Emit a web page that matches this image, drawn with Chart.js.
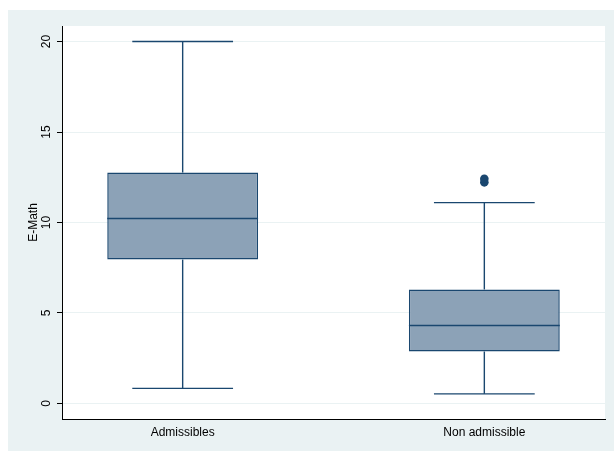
<!DOCTYPE html>
<html>
<head>
<meta charset="utf-8">
<script src="https://cdn.jsdelivr.net/npm/chart.js@4/dist/chart.umd.min.js"></script>
<style>
  html, body { margin: 0; padding: 0; background: #fff; }
  #wrap { width: 614px; height: 451px; }
</style>
</head>
<body>
<div id="wrap"><canvas id="c" width="614" height="451"></canvas></div>
<script>
// Box plot of E-Math scores by admission status
const categories = ['Admissibles', 'Non admissible'];
const lowerWhisker = [0.83, 0.53];
const q1 = [7.95, 2.87];
const median = [10.22, 4.31];
const q3 = [12.76, 6.30];
const upperWhisker = [20, 11.1];
const outliers = [[], [12.22, 12.42]];
const yTicks = [0, 5, 10, 15, 20];

const NAVY = '#1A476F';
const BOX_FILL = '#8CA2B7';
const BOX_HALF = 0.25;   // half box width in x units
const CAP_HALF = 0.167;  // half whisker-cap width in x units

function segment(x0, y0, x1, y1) {
  return {
    type: 'line',
    data: [{ x: x0, y: y0 }, { x: x1, y: y1 }],
    borderColor: NAVY,
    borderWidth: 1.4,
    pointRadius: 0,
    tension: 0,
    fill: false,
    order: 0
  };
}

const datasets = [{
  type: 'bar',
  data: categories.map((c, i) => ({ x: i + 1, y: [q1[i], q3[i]] })),
  backgroundColor: BOX_FILL,
  borderColor: NAVY,
  borderWidth: 1.5,
  borderSkipped: false,
  categoryPercentage: 0.5,
  barPercentage: 1,
  order: 1
}];

categories.forEach((c, i) => {
  const x = i + 1;
  datasets.push(segment(x, lowerWhisker[i], x, q1[i]));
  datasets.push(segment(x, q3[i], x, upperWhisker[i]));
  datasets.push(segment(x - CAP_HALF, lowerWhisker[i], x + CAP_HALF, lowerWhisker[i]));
  datasets.push(segment(x - CAP_HALF, upperWhisker[i], x + CAP_HALF, upperWhisker[i]));
  datasets.push(segment(x - BOX_HALF, median[i], x + BOX_HALF, median[i]));
});

datasets.push({
  type: 'line',
  data: outliers.flatMap((vals, i) => vals.map(v => ({ x: i + 1, y: v }))),
  showLine: false,
  pointRadius: 4.3,
  pointBackgroundColor: NAVY,
  pointBorderWidth: 0,
  order: 0
});

const panel = {
  id: 'panel',
  beforeDraw(chart) {
    const { ctx, chartArea: a } = chart;
    ctx.save();
    ctx.fillStyle = '#ffffff';
    ctx.fillRect(0, 0, chart.width, chart.height);
    ctx.fillStyle = '#EAF2F3';
    ctx.fillRect(8, 10, chart.width - 8, chart.height - 10);
    ctx.fillStyle = '#ffffff';
    ctx.fillRect(a.left, a.top, a.right - a.left, a.bottom - a.top);
    ctx.restore();
  }
};

const font = { family: '"Liberation Sans", Arial, sans-serif', size: 12 };

new Chart(document.getElementById('c'), {
  type: 'bar',
  data: { datasets },
  plugins: [panel],
  options: {
    responsive: false,
    animation: false,
    events: [],
    layout: { padding: { top: 26, right: 9, left: 0, bottom: 0 } },
    plugins: { legend: { display: false }, tooltip: { enabled: false } },
    scales: {
      x: {
        type: 'linear',
        offset: false,
        min: 0.6,
        max: 2.4,
        afterBuildTicks: s => { s.ticks = categories.map((c, i) => ({ value: i + 1 })); },
        afterFit: s => { s.height = 32; },
        grid: { display: false, drawTicks: false, tickLength: 0, offset: false },
        border: { display: true, color: '#000', width: 1 },
        ticks: {
          color: '#000',
          font,
          padding: 6,
          maxRotation: 0,
          autoSkip: false,
          callback: v => categories[Math.round(v) - 1] ?? ''
        }
      },
      y: {
        type: 'linear',
        min: -0.86,
        max: 20.86,
        afterBuildTicks: s => { s.ticks = yTicks.map(v => ({ value: v })); },
        afterFit: s => { s.width = 62; },
        grid: { color: '#EAF2F3', lineWidth: 1, tickColor: '#000', tickLength: 5 },
        border: { display: true, color: '#000', width: 1 },
        ticks: {
          color: '#000',
          font,
          padding: 4,
          minRotation: 90,
          maxRotation: 90,
          crossAlign: 'center'
        },
        title: {
          display: true,
          text: 'E-Math',
          color: '#000',
          font,
          padding: { top: 26, bottom: 0 }
        }
      }
    }
  }
});
</script>
</body>
</html>
